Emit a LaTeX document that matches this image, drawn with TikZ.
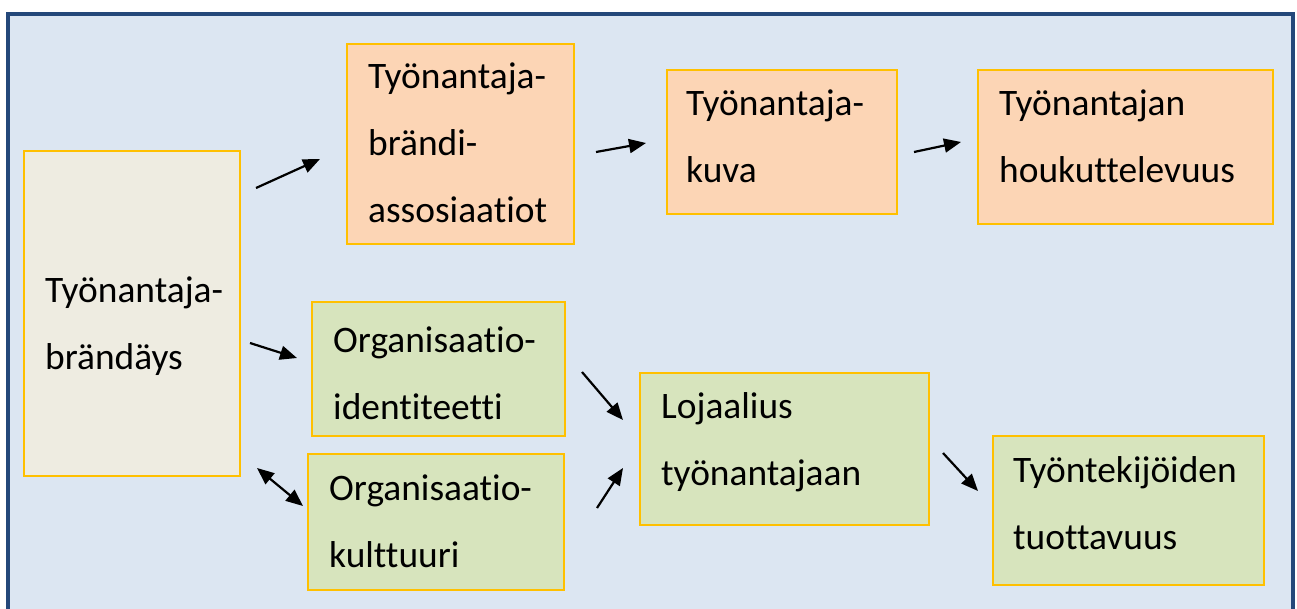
\documentclass[tikz,border=0pt]{standalone}
\usepackage{fontspec}
\setmainfont{Carlito}[Ligatures={NoCommon}]
\usetikzlibrary{arrows.meta}
\definecolor{frameblue}{RGB}{36,72,122}
\definecolor{bgblue}{RGB}{220,230,242}
\definecolor{boxyellow}{RGB}{255,192,0}
\definecolor{beige}{RGB}{238,236,225}
\definecolor{peach}{RGB}{252,213,181}
\definecolor{sage}{RGB}{215,228,189}
\newcommand{\mylines}[1]{\begin{tabular}[t]{@{}l@{}}#1\end{tabular}}
\tikzset{
  box/.style={draw=boxyellow, line width=2pt, rectangle, inner sep=0pt, anchor=north west},
  txt/.style={inner sep=0pt, anchor=base west, font=\fontsize{37.4}{67}\selectfont},
  arr/.style={line width=2.2pt, -{Triangle[length=17pt,width=14pt]}},
  darr/.style={line width=2.2pt, {Triangle[length=17pt,width=14pt]}-{Triangle[length=17pt,width=14pt]}}
}
\begin{document}
\begin{tikzpicture}[x=1pt,y=-1pt]
\useasboundingbox (0,0) rectangle (1297,608);
\begin{scope}
\clip (0,0) rectangle (1297,608);
\fill[white] (0,0) rectangle (1297,608);
\draw[frameblue, fill=bgblue, line width=4pt] (7.5,14) rectangle (1293,640);
\end{scope}
% boxes
\node[box, fill=beige, minimum width=216pt, minimum height=325pt] (b1) at (23,150) {};
\node[box, fill=peach, minimum width=227pt, minimum height=200pt] (b2) at (346,43) {};
\node[box, fill=peach, minimum width=230pt, minimum height=144pt] (b3) at (666,69) {};
\node[box, fill=peach, minimum width=295pt, minimum height=154pt] (b4) at (977,69) {};
\node[box, fill=sage, minimum width=253pt, minimum height=134pt] (b5) at (311,301) {};
\node[box, fill=sage, minimum width=256pt, minimum height=136pt] (b6) at (307,453) {};
\node[box, fill=sage, minimum width=289pt, minimum height=152pt] (b7) at (639,372) {};
\node[box, fill=sage, minimum width=271pt, minimum height=149pt] (b8) at (992,435) {};
% texts
\node[txt] (t1) at (45,302) {\mylines{Työnantaja-\\brändäys}};
\node[txt] (t2) at (368,88) {\mylines{Työnantaja-\\brändi-\\assosiaatiot}};
\node[txt] (t3) at (686,115) {\mylines{Työnantaja-\\kuva}};
\node[txt] (t4) at (999,115) {\mylines{Työnantajan\\houkuttelevuus}};
\node[txt] (t5) at (333,352) {\mylines{Organisaatio-\\identiteetti}};
\node[txt] (t6) at (329,500) {\mylines{Organisaatio-\\kulttuuri}};
\node[txt] (t7) at (661,418) {\mylines{Lojaalius\\työnantajaan}};
\node[txt] (t8) at (1013,482) {\mylines{Työntekijöiden\\tuottavuus}};
% connector end points
\coordinate (a1s) at (256,188); \coordinate (a1e) at (320,159);
\coordinate (a2s) at (596,152); \coordinate (a2e) at (646,143);
\coordinate (a3s) at (914,152); \coordinate (a3e) at (961,142);
\coordinate (a4s) at (250,343); \coordinate (a4e) at (297,358);
\coordinate (a5s) at (257,468); \coordinate (a5e) at (303,506);
\coordinate (a6s) at (582,372); \coordinate (a6e) at (623,420);
\coordinate (a7s) at (597,508); \coordinate (a7e) at (623,468);
\coordinate (a8s) at (943,453); \coordinate (a8e) at (978,491);
\draw[arr] (a1s) -- (a1e);
\draw[arr] (a2s) -- (a2e);
\draw[arr] (a3s) -- (a3e);
\draw[arr] (a4s) -- (a4e);
\draw[darr] (a5s) -- (a5e);
\draw[arr] (a6s) -- (a6e);
\draw[arr] (a7s) -- (a7e);
\draw[arr] (a8s) -- (a8e);
\end{tikzpicture}
\end{document}
